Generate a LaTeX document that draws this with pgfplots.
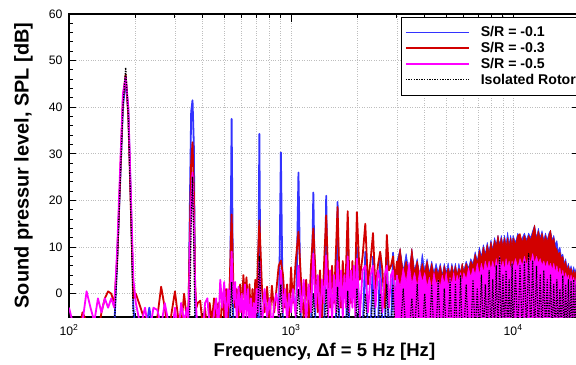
\documentclass[border=0pt]{standalone}
\usepackage{pgfplots}
\usepackage{pgfplotstable}
\pgfplotsset{compat=1.18}
\usepackage{fontspec}
\setmainfont{Liberation Sans}
\definecolor{cblue}{RGB}{51,51,255}
\definecolor{cred}{RGB}{210,0,0}
\definecolor{cmag}{RGB}{255,0,255}
\definecolor{cgrid}{RGB}{190,190,190}

\pgfplotstableread{
f b r m k
100 -9 -9 -3 -9
105 -9 -9 -7 -9
110 -9 -9 -9 -9
115 -9 -4 -6 -9
120 -9 -6 0.5 -9
125 -9 -9 -3 -9
130 -9 -9 -6 -9
135 -9 -9 -1 -9
140 -9 -4 -4 -9
145 -9 -1 -1 -9
150 -9 0.5 -3 -9
155 -9 0 -1 -9
160 -7 -2 -3 -7
165 8 8 10 6
170 24 25 27 24
175 40 42 43 40
180 46 47 46.5 48.5
185 39 38 40 38
190 20 18 21 17
195 -3 -1 3 -6
200 -9 0 -2 -9
210 -9 -3 -7 -9
220 -9 -6 -3 -9
230 -3 -9 -9 -9
240 -9 -9 -3 -9
250 -9 -5 -3.5 -9
260 -9 1.5 -7 -9
270 -9 -3 -2 -9
280 -9 -9 -6 -9
290 -9 -4 -9 -9
300 -9 0.5 -3 -9
310 -9 -5 -9 -9
320 -9 -7 -2 -9
330 -9 0 -6 -9
340 -9 -6 -3 -9
345 -6 -4 -7 -9
350 18 12 8 -4
355 39 28 20 15
360 41.5 32.5 26 25
365 32 22 15 10
370 -2 2 1 -9
375 -9 -3 -4 -9
380 -9 -2 -9 -9
390 -9 -1.5 -6 -9
400 -9 -7 -9 -9
410 -9 -3 -2 -9
420 -9 -9 -1 -9
430 -9 -2 -7 -9
440 -9 -6 -9 -9
450 -9 -1 -4 -9
460 -9 -7 -1 -9
470 -9 -2 -8 -9
480 -9 -8 3 -9
490 -9 0 -3 -9
500 -9 -5 2.5 -9
510 -9 1 -7 -9
520 -9 -6 1 -9
530 -9 3 -3 -9
540 37.5 17 9 2.5
550 -9 2 -2 -9
560 -9 -3 2.5 -9
570 -9 1 -6 -9
580 -9 -5 1.5 -9
590 -9 2 -4 -9
600 -9 -4 0 -9
610 -9 4 -7 -9
620 -9 -1 2 -9
630 -9 3.5 -5 -9
640 -9 -3 1 -9
650 -9 2 -7 -9
660 -9 -7 -1 -9
670 -9 1 -8 -9
680 -9 -5 -2 -9
690 -9 3 -6 -9
700 -9 -2 1 -9
710 -9 8 -4 -2
720 34.3 15.7 7 8
730 -9 8.5 -3 -3
740 -9 1 -7 -9
760 -9 -4 1 -9
780 -9 1.5 -5 -9
800 -9 -6 -1 -9
820 -9 1.7 -8 -9
840 -9 -4 -2 -9
860 -9 1 0 -9
880 -9 6 -5 -5
900 30.3 7.1 5 2
920 -9 4 -4 -9
940 -9 -3 1 -9
960 -9 2 -6 -9
980 -9 -5 0 -9
1000 -9 5.6 -4 -9
1020 -9 -2 1 -9
1050 -9 7 -5 -9
1080 26 13.3 6 1
1110 -9 2.5 -4 -9
1140 -9 -5 3 -9
1170 -9 3 -6 -9
1200 -9 -6 2 -9
1230 -9 6 -4 -9
1260 21.7 14 8.6 0
1290 -9 4 -3 -9
1320 -9 -4 4 -9
1350 -9 5 -6 -9
1380 -9 -5 3 -9
1410 -9 7 -2 -9
1440 21 16.8 8.2 1
1470 -9 3 -5 -9
1500 -9 -3 5 -9
1530 -9 6 -6 -9
1560 -9 -2 4 -9
1590 -9 8 -4 -9
1620 19.7 18.6 7 1.5
1650 -9 4 -3 -9
1680 -9 -3 5 -9
1710 -9 7 -5 -9
1740 -9 0 4 -9
1770 -9 6 -3 -9
1800 9 17.7 8 0.5
1830 -9 3 -4 -9
1860 -9 -2 5 -9
1890 -9 7 -3 -9
1920 -9 0 6 -9
1950 -9 5 -5 -9
1980 10 17.5 7.5 1
2040 -9 3 -5 -9
2100 -9 8 5 -9
2160 9 15 6 0
2220 -9 2 -4 -9
2280 -9 7 4 -9
2340 8 13 6 1
2400 -9 1 -3 -9
2460 -9 6 5 -9
2520 8.5 9 3 0
2580 -9 5 -4 -9
2640 -9 -3 4 -9
2700 9 12.6 6 2
2760 -9 5 -3 -9
2820 -9 6 4 -9
2880 8.8 8 5 2
2940 -9 3 -4 -9
3000 -9 7 4 -9
}\lo

\pgfplotstableread{
f b r m k
2900 -9 -9 -9 -9
3000 7 6 4 -9
3100 9.7 9.7 1.5 -9
3200 5 4.5 5.5 1
3300 8.6 7 2.5 -9
3400 4.5 4 6.8 -9
3500 9.7 9.7 2 -1
3600 5 4.5 4.5 -9
3700 7.5 7 1.5 2
3800 4 4 5 -9
3900 8.6 6.5 2.5 -9
4000 5 4.5 4.5 0
4100 7.5 7 1.5 -9
4200 4.5 4 3.5 -9
4300 7 6.5 1 2
4400 4.5 4 4.5 -9
4500 6.5 5.5 2 -9
4600 4.5 4 3 3
4700 6.5 6 1.5 -9
4800 4 3.5 4 -9
4900 6.5 6 2 1
5000 4.5 4 4.5 -9
5100 6.6 5.5 1.5 -9
5200 4 4 3.5 3
5300 6.5 6 2 -9
5400 4.5 4 4.5 -9
5500 6.5 6 2 2
5600 4 4 4 -9
5700 6.5 5.5 2.5 -9
5800 4.5 4.5 4.5 4
5900 6.5 6.5 2.5 -9
6000 5 4.5 4.5 -9
6150 7 6.5 3 2
6300 5.5 5 5.5 -9
6450 7.5 7 3.5 -9
6600 6.5 6 5.5 3
6750 9 8.5 4 -9
6900 7 6.5 6.5 1
7050 10 9.3 4 -9
7200 8 7.5 6.5 4
7350 10.5 10 4.5 -9
7500 8.5 8 7 2
7650 11 10.5 5 -9
7800 9 8.5 7 5
7950 11.5 11.1 5 -9
8100 9.5 9 7 3
8250 12 11.5 5 -9
8400 10.5 10 7.5 6
8550 12.5 12.5 5.5 -9
8700 10.5 10 8 7.9
8850 12.5 12 5.5 -9
9000 10.5 10 7 4
9150 12.5 12 5 -9
9300 10.5 10 7.5 5
9450 13.2 12 5.5 -9
9600 10.5 10 7 3
9750 12.5 12 5 -9
9900 10.5 10 7 6.4
10000 12.5 12 5.5 -9
10250 11 10.5 7.5 5
10500 13 12.5 5.5 -9
10750 11 12.9 7.5 6
11000 12 11 6 -9
11250 13 12.5 8 7
11500 11.5 11 6 -9
11750 13 12.5 8 8.6
12000 12 11.5 6.5 -9
12250 13.5 13 8.6 7
12500 14.7 14.7 6.5 -9
12750 12 11.5 8 6
13000 14 13.5 6.5 -9
13250 12 11.5 7.5 4
13500 13.5 13 6 -9
13750 11.5 11 7 5
14000 13 12.5 5.5 -9
14250 11.5 11 7 3
14500 13 12.5 5.5 -9
14750 13.6 13.6 6.5 4
15000 11.5 11 5 -9
15250 12.5 12 6.5 2
15500 10.5 10 4.5 -9
15750 11.4 9.5 6 3
16000 9 8.5 4 -9
16250 10 8.9 5.5 1
16500 8 7.5 3.5 -9
16750 8.5 8 5 3.9
17000 6.5 6 3 -9
17250 7.5 7 4.5 2
17500 5.5 5 3 -9
17750 6.5 6 4 3
18000 5 4.7 2.5 -9
18250 6 5.5 4 2.6
18500 4.5 4 2.5 -9
18750 5.8 5 3.5 3
19000 4.5 4 2 -9
19250 5.5 5 3.5 2
19500 4.5 4 2 -9
19750 5 4.5 3 2
20000 -9 -9 -9 -9
}\hi

\begin{document}
\begin{tikzpicture}
\begin{axis}[
  scale only axis, width=510.9bp, height=303bp,
  xmode=log, xmin=100, xmax=20000, ymin=-5, ymax=60,
  axis line style={line width=1.8bp},
  tick align=inside,
  major tick length=7.5bp, minor tick length=4.2bp,
  tick style={black, line width=1bp},
  ytick={0,10,...,60}, minor y tick num=4,
  xtick={100,1000,10000},
  xticklabels={10\textsuperscript{2},10\textsuperscript{3},10\textsuperscript{4}},
  /pgf/number format/assume math mode=true,
  ticklabel style={font=\fontsize{12.3}{14}\selectfont},
  yticklabel style={xshift=-3bp},
  xticklabel style={anchor=base, yshift=-18bp},
  xmajorgrids, xminorgrids, ymajorgrids,
  major grid style={cgrid, line width=0.8bp, dash pattern=on 0.8bp off 1.6bp},
  minor grid style={cgrid, line width=0.8bp, dash pattern=on 0.8bp off 1.6bp},
  xlabel={Frequency, \symbol{"0394}f = 5 Hz [Hz]},
  ylabel={Sound pressur level, SPL [dB]},
  xlabel style={at={(axis description cs:0.5,-0.132)}, anchor=base, inner sep=0pt, font=\fontsize{18.6}{22}\selectfont\bfseries},
  ylabel style={at={(axis description cs:-0.0705,0.5)}, anchor=south, inner sep=0pt, font=\fontsize{20}{24}\selectfont\bfseries},
  legend image code/.code={\draw[#1] (0bp,0bp) -- (63bp,0bp);},
  legend style={at={(axis description cs:0.649,0.991)}, anchor=north west,
    draw=black, line width=0.8bp, fill=white,
    font=\fontsize{14.2}{15.5}\selectfont\bfseries,
    inner xsep=4bp, inner ysep=7.5bp, row sep=0bp,
    cells={anchor=west},
    /tikz/every odd column/.append style={column sep=9bp}},
  every axis plot/.append style={line join=round},
]
\addplot[cblue, line width=1.8bp] table[x=f,y=b]{\lo};
\addlegendentry{S/R = -0.1}
\addplot[cblue, fill=cblue, line width=0.6bp, forget plot] table[x=f,y=b]{\hi};
\addplot[cred, line width=1.8bp] table[x=f,y=r]{\lo};
\addlegendentry{S/R = -0.3}
\addplot[cred, fill=cred, line width=0.6bp, forget plot] table[x=f,y=r]{\hi};
\addplot[cmag, line width=1.8bp] table[x=f,y=m]{\lo};
\addlegendentry{S/R = -0.5}
\addplot[cmag, fill=cmag, line width=0.6bp, forget plot] table[x=f,y=m]{\hi};
\addplot[black, line width=1.3bp, dash pattern=on 1.3bp off 1.3bp] table[x=f,y=k]{\lo};
\addlegendentry{Isolated Rotor}
\addplot[black, line width=1.2bp, dash pattern=on 1.3bp off 1.3bp, forget plot] table[x=f,y=k]{\hi};
\coordinate (sw) at (rel axis cs:0,0);
\end{axis}
\pgfresetboundingbox
\path[use as bounding box] ([xshift=-69bp,yshift=-48bp]sw) rectangle ([xshift=507bp,yshift=317bp]sw);
\end{tikzpicture}
\end{document}
